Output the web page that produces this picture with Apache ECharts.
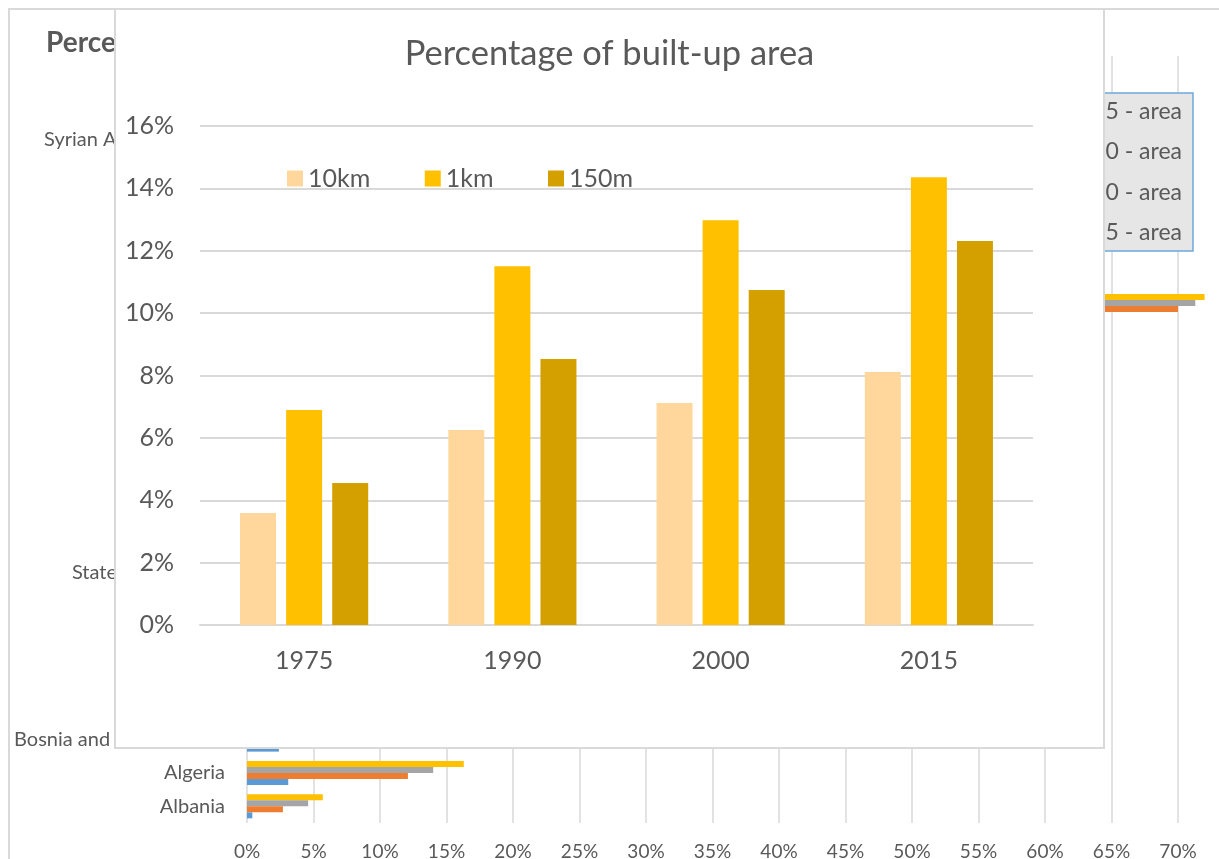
<!DOCTYPE html>
<html>
<head>
<meta charset="utf-8">
<script src="https://cdn.jsdelivr.net/npm/echarts@6/dist/echarts.min.js"></script>
<style>
html,body{margin:0;padding:0;background:#fff;width:1219px;height:859px;overflow:hidden;}
#bg{position:absolute;left:0;top:0;width:1219px;height:859px;}
#fgbox{position:absolute;left:114px;top:8px;width:991px;height:741px;border:2px solid #d9d9d9;box-sizing:border-box;background:#fff;}
#fg{position:absolute;left:0;top:0;width:987px;height:737px;}
</style>
</head>
<body>
<div id="bg"></div>
<div id="fgbox"><div id="fg"></div></div>
<script>
// ---------- Foreground chart data ----------
const years = ['1975', '1990', '2000', '2015'];
const seriesNames = ['10km', '1km', '150m'];
const area10km = [0.0359, 0.0625, 0.0712, 0.0811];
const area1km  = [0.0689, 0.1150, 0.1298, 0.1436];
const area150m = [0.0455, 0.0853, 0.1074, 0.1231];
const fgColors = ['#FFD79C', '#FFC000', '#D4A000'];

// ---------- Background chart data (mostly covered) ----------
const countries = ['Albania', 'Algeria', 'Bosnia and Herzegovina', 'Croatia', 'Cyprus', 'Egypt', 'France',
  'State of Palestine', 'Greece', 'Israel', 'Italy', 'Lebanon', 'Libya', 'Malta', 'Montenegro', 'Monaco',
  'Morocco', 'Slovenia', 'Spain', 'Tunisia', 'Syrian Arab Republic', 'Turkey', 'Jordan'];
const bgNames = ['1975 - area', '1990 - area', '2000 - area', '2015 - area'];
const area1975 = [0.004, 0.031, 0.024, 0.020, 0.040, 0.010, 0.050, 0.060, 0.030, 0.070, 0.060, 0.080, 0.005, 0.200, 0.010, 0.300, 0.020, 0.030, 0.050, 0.030, 0.020, 0.020, 0.010];
const area1990 = [0.027, 0.121, 0.050, 0.040, 0.080, 0.030, 0.080, 0.120, 0.050, 0.120, 0.090, 0.140, 0.010, 0.300, 0.020, 0.700, 0.040, 0.050, 0.080, 0.060, 0.040, 0.050, 0.020];
const area2000 = [0.046, 0.140, 0.060, 0.050, 0.100, 0.040, 0.090, 0.150, 0.060, 0.140, 0.100, 0.160, 0.012, 0.330, 0.025, 0.713, 0.050, 0.055, 0.090, 0.070, 0.050, 0.060, 0.030];
const area2015 = [0.057, 0.163, 0.070, 0.060, 0.120, 0.050, 0.100, 0.180, 0.070, 0.160, 0.110, 0.180, 0.015, 0.360, 0.030, 0.720, 0.060, 0.060, 0.100, 0.080, 0.060, 0.070, 0.035];
const bgColors = ['#5B9BD5', '#ED7D31', '#A5A5A5', '#FFC000'];

const pct = v => Math.round(v * 100) + '%';
const FONT = 'Lato, "Open Sans", sans-serif';
const GREY = '#595959';

// ---------- Background ----------
const bg = echarts.init(document.getElementById('bg'), null, {renderer: 'canvas'});
const bgData = [area1975, area1990, area2000, area2015];
// first series is drawn at the top of a horizontal group
const bgOrder = [3, 2, 1, 0];
bg.setOption({
  animation: false,
  textStyle: {fontFamily: FONT},
  graphic: [{
    type: 'rect', shape: {x: 9, y: 9, width: 1300, height: 1000},
    style: {fill: 'none', stroke: '#d9d9d9', lineWidth: 2}, z: 0
  }],
  title: {
    text: 'Percentage of built-up area', left: 41, top: 24,
    textStyle: {fontFamily: FONT, fontSize: 28, fontWeight: 'bold', color: GREY}
  },
  legend: {
    orient: 'vertical', right: 26, top: 93,
    data: bgNames.slice().reverse(),
    backgroundColor: '#e6e6e6', borderColor: '#6fa8dc', borderWidth: 1.5,
    padding: [7, 11, 7, 10], itemGap: 17.3, itemWidth: 12, itemHeight: 12,
    textStyle: {fontFamily: FONT, fontSize: 23, color: GREY}
  },
  grid: {left: 247, top: 56, width: 997.5, height: 767, outerBoundsMode: 'none', containLabel: false},
  xAxis: {
    type: 'value', min: 0, max: 0.75, interval: 0.05,
    axisLine: {show: false}, axisTick: {show: false},
    splitLine: {lineStyle: {color: '#d9d9d9', width: 1.5}},
    axisLabel: {formatter: pct, fontFamily: FONT, fontSize: 19, color: GREY, margin: 19}
  },
  yAxis: {
    type: 'category', data: countries,
    axisLine: {show: false}, axisTick: {show: false},
    axisLabel: {interval: 0, fontFamily: FONT, fontSize: 20, color: GREY, margin: 22}
  },
  series: bgOrder.map(i => ({
    name: bgNames[i], type: 'bar', data: bgData[i], barWidth: 6, barGap: '0%',
    itemStyle: {color: bgColors[i]}
  }))
});

// ---------- Foreground ----------
const fg = echarts.init(document.getElementById('fg'), null, {renderer: 'canvas'});
const fgData = [area10km, area1km, area150m];
fg.setOption({
  animation: false,
  textStyle: {fontFamily: FONT},
  title: {
    text: 'Percentage of built-up area', left: 'center', top: 21,
    textStyle: {fontFamily: FONT, fontSize: 34.5, fontWeight: 'normal', color: GREY}
  },
  legend: {
    left: 166, top: 151, icon: 'rect', itemWidth: 16, itemHeight: 16, itemGap: 54.5,
    data: seriesNames,
    textStyle: {fontFamily: FONT, fontSize: 25, color: GREY}
  },
  grid: {left: 84, top: 116, width: 833, height: 499, outerBoundsMode: 'none'},
  xAxis: {
    type: 'category', data: years,
    axisLine: {lineStyle: {color: '#d9d9d9', width: 2}}, axisTick: {show: false},
    axisLabel: {fontFamily: FONT, fontSize: 25, color: GREY, margin: 23}
  },
  yAxis: {
    type: 'value', min: 0, max: 0.16, interval: 0.02,
    axisLine: {show: false}, axisTick: {show: false},
    splitLine: {lineStyle: {color: '#d9d9d9', width: 2}},
    axisLabel: {formatter: pct, fontFamily: FONT, fontSize: 25, color: GREY, margin: 26}
  },
  series: seriesNames.map((n, i) => ({
    name: n, type: 'bar', data: fgData[i], barWidth: 36, barGap: '28%',
    itemStyle: {color: fgColors[i]}
  }))
});
</script>
</body>
</html>
